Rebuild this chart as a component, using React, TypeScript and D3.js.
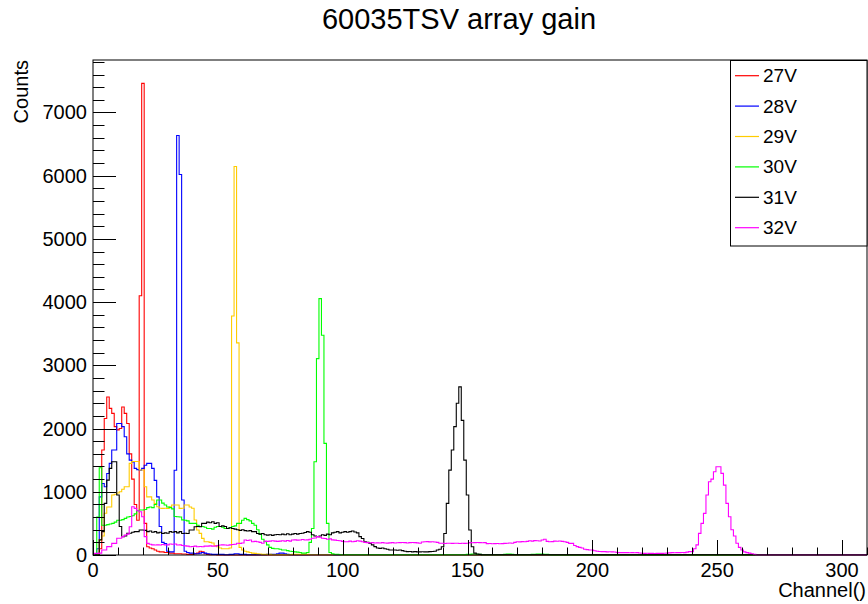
import React from "react";
import * as d3 from "d3";

// ---------- data (bin contents, index = channel, 1-channel bins centred on the channel) ----------
const seriesNames = ["27V", "28V", "29V", "30V", "31V", "32V"];

const red27 = [0, 0, 0, 100, 1660, 2160, 2500, 2320, 2240, 2030, 1980, 2000, 2340, 2240, 2080, 1600, 1200, 800, 550, 4100, 7460, 500, 130, 110, 100, 80, 60, 50, 50, 40, 40, 30, 30, 20, 20, 20, 15, 15, 10, 10, 10, 20, 30, 60, 50, 20, 10, 5, 5, 5];

const blue28 = [0, 0, 100, 920, 1130, 1080, 1290, 1450, 1660, 1660, 2080, 2080, 2030, 1870, 1600, 1500, 1470, 1370, 1350, 1340, 1370, 1420, 1450, 1450, 1370, 1180, 920, 450, 200, 180, 60, 50, 50, 1340, 6635, 6020, 870, 60, 40, 30, 30, 20, 20, 30, 40, 30, 20, 15, 10, 10, 10, 10, 10, 5, 5, 10, 10, 20, 20, 10, 10, 10, 5, 5, 5, 5, 5, 5, 5, 5, 10, 10, 10, 10, 20, 30, 30, 20, 10, 5, 5, 5, 5, 5, 5, 5, 5, 5, 5, 5, 5, 5, 5, 5, 5, 5, 5];

const yellow29 = [0, 0, 0, 240, 300, 660, 760, 760, 950, 960, 980, 1000, 1040, 1080, 1080, 1450, 1480, 1480, 1480, 1345, 1345, 1080, 920, 920, 870, 815, 764, 740, 737, 740, 737, 764, 790, 790, 790, 737, 740, 790, 790, 760, 740, 553, 395, 342, 263, 210, 210, 200, 190, 150, 130, 110, 100, 100, 100, 110, 3780, 6145, 3355, 120, 80, 60, 50, 40, 30, 25, 20, 15, 10, 10, 10, 10, 5, 5, 5, 5, 5, 5, 5, 5, 10, 10, 10, 10, 10, 10, 10, 5, 5, 5, 5, 5, 5, 5, 5, 5, 5, 5, 5, 5];

const green30 = [0, 0, 600, 1380, 470, 470, 480, 490, 500, 520, 550, 550, 560, 580, 600, 610, 620, 650, 700, 711, 711, 720, 750, 760, 750, 800, 870, 870, 820, 790, 760, 750, 730, 610, 605, 600, 555, 550, 540, 500, 500, 500, 470, 450, 450, 440, 420, 420, 410, 440, 450, 450, 440, 420, 420, 430, 450, 460, 500, 500, 550, 580, 560, 540, 500, 470, 400, 330, 250, 210, 160, 120, 105, 100, 100, 90, 80, 80, 70, 60, 55, 50, 45, 40, 30, 30, 40, 200, 420, 1475, 3106, 4055, 3476, 1765, 500, 40, 20, 10, 10, 5, 5, 5, 5, 5, 5, 5, 5, 5, 5, 5, 5, 5, 5, 5, 5, 5, 5, 5, 5, 5, 5, 5, 5, 5, 5, 5, 5, 5, 5, 5, 5, 5, 5, 5, 5, 5, 5, 5, 5, 5, 5, 5, 5, 5, 5, 5, 5, 5, 5, 5, 10, 10, 15, 15, 10, 10, 5, 5, 5, 5, 5, 5, 5, 5, 5, 10, 15, 15, 10, 5, 5, 5, 5, 5, 5, 5, 10, 10, 15, 15, 15, 10, 10, 5];

const black31 = [0, 0, 0, 240, 370, 816, 1185, 1370, 1475, 1475, 950, 450, 290, 300, 343, 343, 360, 370, 370, 395, 395, 390, 370, 380, 360, 370, 350, 360, 340, 350, 345, 370, 360, 370, 350, 370, 340, 345, 340, 395, 395, 448, 450, 448, 500, 500, 520, 510, 527, 500, 510, 450, 460, 450, 420, 430, 420, 410, 400, 390, 400, 385, 380, 385, 370, 370, 340, 330, 340, 320, 315, 320, 310, 320, 325, 320, 330, 320, 335, 320, 330, 340, 330, 340, 345, 355, 370, 360, 320, 300, 290, 300, 320, 310, 330, 320, 350, 360, 370, 350, 360, 370, 360, 370, 380, 365, 350, 290, 260, 210, 200, 184, 160, 132, 110, 105, 110, 100, 90, 80, 79, 80, 75, 79, 70, 60, 53, 55, 50, 53, 50, 50, 52, 50, 50, 53, 55, 60, 79, 90, 130, 340, 816, 1343, 1660, 2030, 2400, 2660, 2130, 1500, 950, 395, 130, 30, 15, 10, 5, 5, 5, 5, 5, 5, 5, 5, 5, 5, 5, 5, 5, 5, 5, 5, 5, 5, 5, 5, 5, 5, 5, 5, 5, 5, 5, 5, 5, 5, 5, 5, 5, 5, 5, 5, 5, 5, 5, 5, 5, 5, 5, 5, 5, 5, 5, 5, 5, 5, 5, 5, 5, 5, 5, 5, 5, 5, 5, 5, 5, 5, 5, 5, 5, 5, 5, 5, 5, 5, 5, 5, 5, 5, 5, 5, 5, 5, 5, 5, 5, 5, 5, 5, 5, 5, 5, 5, 5, 5, 5, 5, 5, 5, 5, 5, 5, 5, 5, 5, 5, 5, 5, 5, 5, 5, 5, 5, 5, 5, 5, 5, 5, 5, 5, 5, 5, 5, 5, 5, 5, 5, 5, 5, 5, 5, 5, 5, 5, 5, 5, 5, 5, 5, 5, 5, 5, 5, 5, 5, 5, 5, 5, 5, 5, 5, 5, 5, 5, 5, 5, 5, 5, 5, 5, 15, 20, 20, 15, 5, 5];

const magenta32 = [0, 26, 26, 30, 79, 79, 132, 132, 184, 184, 264, 264, 290, 316, 330, 448, 764, 737, 700, 685, 606, 290, 184, 170, 160, 158, 160, 158, 165, 158, 160, 174, 170, 174, 158, 160, 150, 145, 140, 130, 135, 140, 130, 135, 130, 140, 140, 145, 140, 140, 150, 158, 160, 158, 155, 160, 165, 170, 185, 184, 190, 237, 230, 237, 210, 215, 210, 200, 185, 220, 215, 220, 225, 220, 215, 220, 225, 220, 230, 220, 237, 240, 235, 237, 245, 237, 240, 250, 264, 270, 290, 280, 264, 260, 250, 255, 240, 235, 230, 225, 215, 210, 210, 220, 210, 215, 226, 220, 210, 200, 195, 190, 195, 190, 192, 190, 195, 190, 188, 192, 195, 190, 193, 195, 197, 195, 190, 195, 198, 195, 192, 185, 205, 210, 212, 208, 210, 205, 200, 185, 186, 183, 185, 187, 184, 186, 185, 183, 185, 184, 186, 195, 193, 195, 198, 195, 193, 196, 180, 182, 178, 180, 183, 178, 180, 184, 186, 190, 185, 200, 210, 208, 212, 210, 215, 225, 220, 228, 225, 222, 237, 250, 215, 210, 212, 220, 218, 222, 215, 210, 200, 184, 184, 150, 132, 120, 110, 90, 85, 79, 79, 68, 60, 55, 53, 53, 50, 52, 50, 48, 40, 38, 37, 37, 38, 36, 37, 35, 37, 32, 28, 26, 27, 25, 26, 24, 26, 25, 26, 28, 30, 34, 37, 36, 38, 37, 40, 38, 45, 53, 53, 100, 160, 342, 500, 658, 948, 1159, 1200, 1317, 1396, 1396, 1291, 1106, 816, 606, 400, 300, 185, 120, 79, 50, 37, 30, 20, 10];

const seriesValues = [red27, blue28, yellow29, green30, black31, magenta32];
const seriesColors = ["#ff0000", "#0000ff", "#ffcc00", "#00ff00", "#000000", "#ff00ff"];

const xMajorTicks = [0, 50, 100, 150, 200, 250, 300];
const yMajorTicks = [0, 1000, 2000, 3000, 4000, 5000, 6000, 7000];
const xDomain = [0, 310];
const yDomain = [0, 7830];
const nBins = 311;
const binLow = -0.5; // low edge of bin 0

const titleText = "60035TSV array gain";
const xTitle = "Channel()";
const yTitle = "Counts";

// ---------- layout ----------
const W = 868;
const H = 604;
const L = 93;
const R = 867;
const T = 60;
const B = 555;
const FONT = "'Liberation Sans', Arial, Helvetica, sans-serif";

export default function App() {
  const x = d3.scaleLinear().domain(xDomain).range([L, R]);
  const y = d3.scaleLinear().domain(yDomain).range([B, T]);

  const xMinor = d3.range(xDomain[0], xDomain[1] + 0.001, 10);
  const yMinor = d3.range(yDomain[0], yDomain[1], 200);

  const line = d3
    .line<[number, number]>()
    .x((d) => x(d[0]))
    .y((d) => y(d[1]))
    .curve(d3.curveStepAfter);

  const paths = seriesValues.map((vals) => {
    const pts: [number, number][] = [];
    for (let i = 0; i < nBins; i++) pts.push([binLow + i, vals[i] ?? 0]);
    pts.push([binLow + nBins, vals[nBins - 1] ?? 0]);
    return line(pts) || "";
  });

  const legX = 730.5;
  const legY = 60.5;
  const legW = 136.5;
  const legH = 185.5;
  const legRow = 30.4;

  return (
    <svg
      width={W}
      height={H}
      style={{ position: "absolute", left: 0, top: 0, background: "#fff" }}
      fontFamily={FONT}
    >
      <defs>
        <clipPath id="plotClip">
          <rect x={L} y={T - 2} width={R - L} height={B - T + 4} />
        </clipPath>
      </defs>
      <rect x={0} y={0} width={W} height={H} fill="#fff" />
      <text x={459} y={29} fontSize={29} textAnchor="middle" fill="#000">
        {titleText}
      </text>

      <g clipPath="url(#plotClip)">
        {paths.map((p, i) => (
          <path key={i} d={p} fill="none" stroke={seriesColors[i]} strokeWidth={1.1} />
        ))}
      </g>

      {/* frame */}
      <rect x={L} y={T} width={R - L} height={B - T} fill="none" stroke="#000" strokeWidth={1} />

      {/* ticks */}
      <g stroke="#000" strokeWidth={1}>
        {xMinor.map((v) => {
          const major = v % 50 === 0;
          return (
            <line
              key={"xm" + v}
              x1={Math.round(x(v)) + 0.5}
              x2={Math.round(x(v)) + 0.5}
              y1={B}
              y2={B - (major ? 15 : 7.5)}
            />
          );
        })}
        {yMinor.map((v) => {
          const major = v % 1000 === 0;
          return (
            <line
              key={"ym" + v}
              y1={Math.round(y(v)) + 0.5}
              y2={Math.round(y(v)) + 0.5}
              x1={L}
              x2={L + (major ? 23 : 11.5)}
            />
          );
        })}
      </g>

      <g fontSize={20} fill="#000">
        {xMajorTicks.map((v) => (
          <text key={"xl" + v} x={x(v)} y={577} textAnchor="middle">
            {v}
          </text>
        ))}
        {yMajorTicks.map((v) => (
          <text key={"yl" + v} x={87} y={y(v) + 7} textAnchor="end">
            {v}
          </text>
        ))}
        <text x={866} y={597} textAnchor="end">
          {xTitle}
        </text>
        <text x={28} y={60} textAnchor="end" transform="rotate(-90 28 60)">
          {yTitle}
        </text>
      </g>

      {/* legend */}
      <g>
        <rect x={legX} y={legY} width={legW} height={legH} fill="#fff" stroke="#000" strokeWidth={1} />
        {seriesNames.map((n, i) => {
          const cy = 75.7 + i * legRow;
          return (
            <g key={n}>
              <line x1={735} x2={759} y1={cy} y2={cy} stroke={seriesColors[i]} strokeWidth={1.2} />
              <text x={763} y={cy + 6.5} fontSize={19} fill="#000">
                {n}
              </text>
            </g>
          );
        })}
      </g>
    </svg>
  );
}
